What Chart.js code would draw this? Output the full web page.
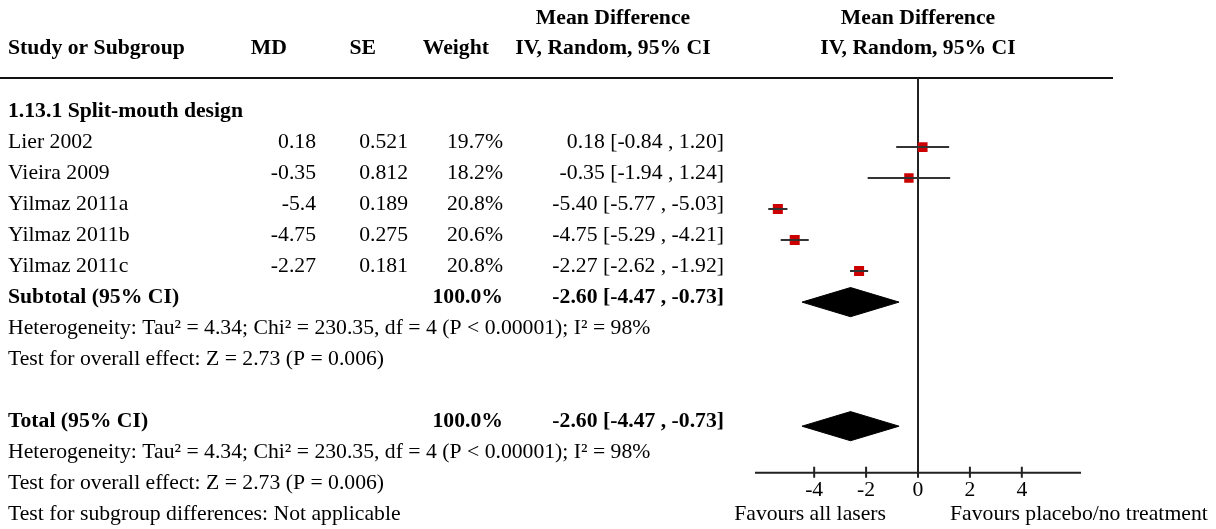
<!DOCTYPE html>
<html>
<head>
<meta charset="utf-8">
<script src="https://cdn.jsdelivr.net/npm/chart.js@4/dist/chart.umd.min.js"></script>
<style>
  html, body { margin: 0; padding: 0; background: #fff; }
  canvas { display: block; }
</style>
</head>
<body>
<canvas id="forestChart" width="1216" height="529"></canvas>
<script>
// Study data (1.13.1 Split-mouth design)
const studies = ['Lier 2002', 'Vieira 2009', 'Yilmaz 2011a', 'Yilmaz 2011b', 'Yilmaz 2011c'];
const md = [0.18, -0.35, -5.4, -4.75, -2.27];
const se = [0.521, 0.812, 0.189, 0.275, 0.181];
const weight = [19.7, 18.2, 20.8, 20.6, 20.8];
const ciLow = [-0.84, -1.94, -5.77, -5.29, -2.62];
const ciHigh = [1.20, 1.24, -5.03, -4.21, -1.92];

// Pooled results: subtotal, total
const pooledLabels = ['Subtotal (95% CI)', 'Total (95% CI)'];
const pooledWeight = [100.0, 100.0];
const pooledEst = [-2.60, -2.60];
const pooledLow = [-4.47, -4.47];
const pooledHigh = [-0.73, -0.73];

const heterogeneity = 'Heterogeneity: Tau\u00B2 = 4.34; Chi\u00B2 = 230.35, df = 4 (P < 0.00001); I\u00B2 = 98%';
const overallEffect = 'Test for overall effect: Z = 2.73 (P = 0.006)';
const subgroupTest = 'Test for subgroup differences: Not applicable';

const xTicks = [-4, -2, 0, 2, 4];

// Row layout (one row per line of the table)
const studyRows = [1, 2, 3, 4, 5];
const pooledRows = [6, 10];

const FONT = '"Liberation Serif", "Times New Roman", serif';
const FS = 21.7;
const diamondHalf = 0.47;

function font(bold) {
    return (bold ? 'bold ' : '') + FS + 'px ' + FONT;
}

function fmtCI(est, lo, hi) {
    return est.toFixed(2) + ' [' + lo.toFixed(2) + ' , ' + hi.toFixed(2) + ']';
}

// Build datasets
const datasets = [];

// CI whiskers
studies.forEach(function(name, i) {
    datasets.push({
        data: [{x: ciLow[i], y: studyRows[i]}, {x: ciHigh[i], y: studyRows[i]}],
        showLine: true,
        borderColor: '#333333',
        borderWidth: 2,
        pointRadius: 0
    });
});

// Point estimates (squares sized by weight)
datasets.push({
    data: md.map(function(v, i) { return {x: v, y: studyRows[i]}; }),
    pointStyle: 'rect',
    pointRadius: weight.map(function(w) { return 2.2 * Math.sqrt(w) / (2 * Math.SQRT1_2); }),
    backgroundColor: '#cc0000',
    borderColor: '#cc0000',
    borderWidth: 0
});

// Pooled diamonds
pooledEst.forEach(function(est, i) {
    const r = pooledRows[i];
    datasets.push({
        data: [
            {x: pooledLow[i], y: r},
            {x: est, y: r - diamondHalf},
            {x: pooledHigh[i], y: r},
            {x: est, y: r + diamondHalf},
            {x: pooledLow[i], y: r}
        ],
        showLine: true,
        fill: 'shape',
        tension: 0,
        backgroundColor: '#000000',
        borderColor: '#000000',
        borderWidth: 1,
        pointRadius: 0
    });
});

const tablePlugin = {
    id: 'forestTable',
    beforeDatasetsDraw: function(chart) {
        const ctx = chart.ctx;
        const area = chart.chartArea;
        const x = chart.scales.x;
        ctx.save();
        // header rule
        ctx.strokeStyle = '#111';
        ctx.lineWidth = 2;
        ctx.beginPath();
        ctx.moveTo(0, area.top);
        ctx.lineTo(1113, area.top);
        ctx.stroke();
        // line of no effect
        const x0 = x.getPixelForValue(0);
        ctx.strokeStyle = '#222';
        ctx.beginPath();
        ctx.moveTo(x0, area.top);
        ctx.lineTo(x0, area.bottom);
        ctx.stroke();
        ctx.restore();
    },
    afterDraw: function(chart) {
        const ctx = chart.ctx;
        const area = chart.chartArea;
        const x = chart.scales.x;
        const y = chart.scales.y;
        const x0 = x.getPixelForValue(0);

        function text(str, px, py, align, bold) {
            ctx.font = font(bold);
            ctx.textAlign = align;
            ctx.fillText(str, px, py);
        }
        function rowY(r) { return y.getPixelForValue(r) + 1; }

        ctx.save();
        ctx.fillStyle = '#000';
        ctx.textBaseline = 'alphabetic';

        // column headers
        text('Mean Difference', 613, 24, 'center', true);
        text('Study or Subgroup', 8, 54, 'left', true);
        text('MD', 287, 54, 'right', true);
        text('SE', 376, 54, 'right', true);
        text('Weight', 489, 54, 'right', true);
        text('IV, Random, 95% CI', 613, 54, 'center', true);
        text('Mean Difference', x0, 24, 'center', true);
        text('IV, Random, 95% CI', x0, 54, 'center', true);

        // subgroup title
        text('1.13.1 Split-mouth design', 8, rowY(0), 'left', true);

        // study rows
        studies.forEach(function(name, i) {
            const py = rowY(studyRows[i]);
            text(name, 8, py, 'left', false);
            text(String(md[i]), 316, py, 'right', false);
            text(String(se[i]), 408, py, 'right', false);
            text(weight[i].toFixed(1) + '%', 503, py, 'right', false);
            text(fmtCI(md[i], ciLow[i], ciHigh[i]), 724, py, 'right', false);
        });

        // pooled rows and their footnotes
        pooledLabels.forEach(function(label, i) {
            const r = pooledRows[i];
            text(label, 8, rowY(r), 'left', true);
            text(pooledWeight[i].toFixed(1) + '%', 503, rowY(r), 'right', true);
            text(fmtCI(pooledEst[i], pooledLow[i], pooledHigh[i]), 724, rowY(r), 'right', true);
            text(heterogeneity, 8, rowY(r + 1), 'left', false);
            text(overallEffect, 8, rowY(r + 2), 'left', false);
        });
        text(subgroupTest, 8, rowY(13), 'left', false);

        // x axis with ticks crossing the line
        const ay = area.bottom;
        ctx.strokeStyle = '#222';
        ctx.lineWidth = 2;
        ctx.beginPath();
        ctx.moveTo(area.left, ay);
        ctx.lineTo(area.right, ay);
        x.ticks.forEach(function(t) {
            const px = x.getPixelForValue(t.value);
            ctx.moveTo(px, ay - 6);
            ctx.lineTo(px, ay + 5);
        });
        ctx.stroke();
        x.ticks.forEach(function(t) {
            text(String(t.value), x.getPixelForValue(t.value), ay + 23, 'center', false);
        });

        // favours labels
        text('Favours all lasers', x0 - 32, rowY(13), 'right', false);
        text('Favours placebo/no treatment', x0 + 32, rowY(13), 'left', false);
        ctx.restore();
    }
};

const ctx = document.getElementById('forestChart').getContext('2d');
const chart = new Chart(ctx, {
    type: 'scatter',
    data: { datasets: datasets },
    options: {
        responsive: false,
        animation: false,
        devicePixelRatio: 1,
        layout: {
            padding: { left: 755, right: 135, top: 78, bottom: 56.3 }
        },
        plugins: {
            legend: { display: false },
            tooltip: { enabled: false }
        },
        scales: {
            x: {
                display: false,
                min: -6.28,
                max: 6.28,
                afterBuildTicks: function(scale) {
                    scale.ticks = xTicks.map(function(v) { return {value: v}; });
                }
            },
            y: {
                display: false,
                reverse: true,
                min: -1.226,
                max: 11.5
            }
        }
    },
    plugins: [tablePlugin]
});
</script>
</body>
</html>
